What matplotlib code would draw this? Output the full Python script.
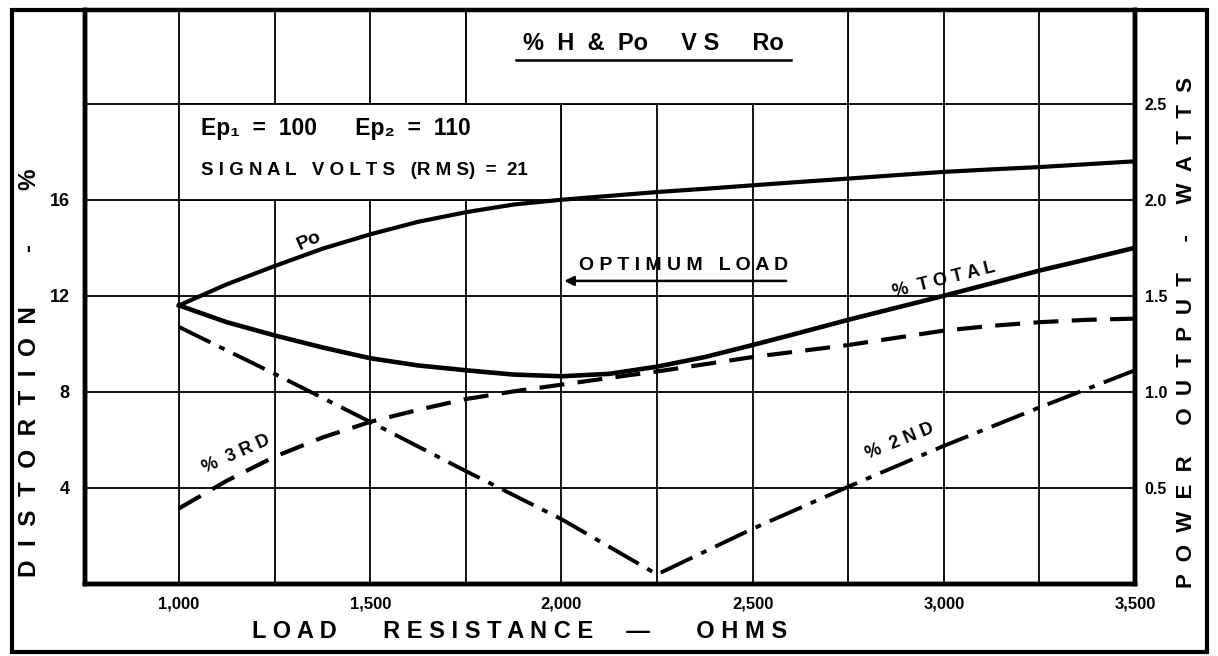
import matplotlib
matplotlib.use('Agg')
import matplotlib.pyplot as plt
from matplotlib.patches import Rectangle
import numpy as np

plt.rcParams['font.family'] = ['Liberation Sans', 'DejaVu Sans']
plt.rcParams['font.weight'] = 'bold'

# load resistance, ohms (read every 125 ohm off the curves)
r_load = [1000, 1125, 1250, 1375, 1500, 1625, 1750, 1875, 2000, 2125, 2250,
          2375, 2500, 2625, 2750, 2875, 3000, 3125, 3250, 3375, 3500]
# distortion, %
pct_total = [11.6, 10.9, 10.35, 9.85, 9.4, 9.1, 8.9, 8.72, 8.65, 8.75, 9.05,
             9.45, 9.95, 10.47, 11.0, 11.5, 12.0, 12.52, 13.05, 13.52, 14.0]
pct_3rd = [3.15, 4.3, 5.3, 6.1, 6.75, 7.25, 7.7, 8.02, 8.3, 8.58, 8.85,
           9.15, 9.45, 9.7, 9.95, 10.25, 10.55, 10.75, 10.9, 11.0, 11.05]
# power output, watts
po_watts = [1.45, 1.56, 1.655, 1.745, 1.82, 1.885, 1.935, 1.975, 2.0, 2.02, 2.04,
            2.057, 2.075, 2.093, 2.11, 2.128, 2.145, 2.158, 2.17, 2.185, 2.2]
# 2nd harmonic is two straight legs
r_2nd = [1000, 1250, 1500, 1750, 2000, 2250, 2500, 2750, 3000, 3250, 3500]
pct_2nd = [10.7, 8.75, 6.75, 4.7, 2.7, 0.4, 2.3, 4.05, 5.75, 7.35, 8.9]

x_ticks = [1000, 1500, 2000, 2500, 3000, 3500]
x_labels = ['1,000', '1,500', '2,000', '2,500', '3,000', '3,500']
y_ticks = [4, 8, 12, 16]
w_ticks = [0.5, 1.0, 1.5, 2.0, 2.5]
w_labels = ['0.5', '1.0', '1.5', '2.0', '2.5']

XMIN, XMAX = 754, 3500
YMAX = 23.9

fig = plt.figure(figsize=(12.18, 6.56), dpi=100)
ax = fig.add_axes([85 / 1218, 72 / 656, 1050 / 1218, 574 / 656])
ax2 = ax.twinx()

ax.set_xlim(XMIN, XMAX)
ax.set_ylim(0, YMAX)
ax2.set_ylim(0, YMAX / 8)  # 20 % <-> 2.5 W

# grid
ax.set_xticks(x_ticks)
ax.set_xticklabels(x_labels, fontsize=12)
ax.set_xticks(np.arange(1250, 3500, 500), minor=True)
ax.set_yticks(y_ticks)
ax.set_yticklabels([str(v) for v in y_ticks], fontsize=13)
ax.set_yticks([20], minor=True)
ax.grid(True, which='both', color='black', linewidth=1.3)
ax.set_axisbelow(True)
ax.tick_params(which='both', length=0)
ax.tick_params(axis='x', pad=9)
ax.tick_params(axis='y', pad=11)

ax2.set_yticks(w_ticks)
ax2.set_yticklabels(w_labels, fontsize=11.5)
ax2.tick_params(length=0, pad=7)

for a in (ax, ax2):
    for side in ('left', 'bottom', 'right'):
        a.spines[side].set_linewidth(3.2)
    a.spines['top'].set_linewidth(3.0)

# white boxes for the notes and the title
ax.add_patch(Rectangle((1000, 16), 1000, 4, facecolor='white', edgecolor='black',
                       linewidth=1.3, zorder=1))
ax.add_patch(Rectangle((1750, 20), 1000, YMAX - 20, facecolor='white',
                       edgecolor='black', linewidth=1.3, zorder=1))

# curves
ax.plot(r_load, pct_total, color='black', linewidth=3.3, zorder=3,
        solid_joinstyle='round')
ax.plot(r_load, pct_3rd, color='black', linewidth=3.0, dashes=(6, 3.2), zorder=3)
ax.plot(r_2nd, pct_2nd, color='black', linewidth=2.8, dashes=(9, 2.5, 1.5, 2.5), zorder=3)
ax2.plot(r_load, po_watts, color='black', linewidth=3.0, zorder=3,
         solid_joinstyle='round')

# notes
ax.text(1058, 18.95, 'Ep₁  =  100      Ep₂  =  110', fontsize=16.5, va='center', zorder=4)
ax.text(1058, 17.2, 'S I G N A L   V O L T S   (R M S)  =  21', fontsize=13.5,
        va='center', zorder=4)
ax.text(2240, 22.5, '%  H  &  Po     V S     Ro', fontsize=17, ha='center',
        va='center', zorder=4)
ax.plot([1880, 2600], [21.8, 21.8], color='black', linewidth=1.8, zorder=4)

ax.text(2320, 13.25, 'O P T I M U M   L O A D', fontsize=14, ha='center',
        va='center', zorder=4)
ax.annotate('', xy=(2000, 12.62), xytext=(2595, 12.62),
            arrowprops=dict(arrowstyle='-|>', color='black', lw=1.8,
                            mutation_scale=14), zorder=4)

ax.text(1340, 14.3, 'Po', fontsize=14, rotation=24, ha='center', va='center', zorder=4)
ax.text(3000, 12.65, '%  T O T A L', fontsize=13, rotation=14, ha='center',
        va='center', zorder=4)
ax.text(1150, 5.4, '%  3 R D', fontsize=13, rotation=24, ha='center', va='center', zorder=4)
ax.text(2885, 5.95, '%  2 N D', fontsize=13, rotation=22, ha='center', va='center', zorder=4)

# axis titles
fig.text(30 / 1218, 1 - 373 / 656, 'D  I  S  T  O  R  T  I  O  N        -        %',
         rotation=90, fontsize=17.5, ha='center', va='center')
fig.text(1186 / 1218, 1 - 333 / 656,
         'P  O  W  E  R     O  U  T  P  U  T     -     W  A  T  T  S',
         rotation=90, fontsize=16, ha='center', va='center')
fig.text(520 / 1218, 1 - 632 / 656,
         'L O A D       R E S I S T A N C E     —       O H M S',
         fontsize=17, ha='center', va='center')

# outer frame
fig.patches.append(Rectangle((12 / 1218, 4 / 656), 1195 / 1218, 642 / 656,
                             fill=False, linewidth=3, edgecolor='black',
                             transform=fig.transFigure))

fig.savefig('out.png', dpi=100)
